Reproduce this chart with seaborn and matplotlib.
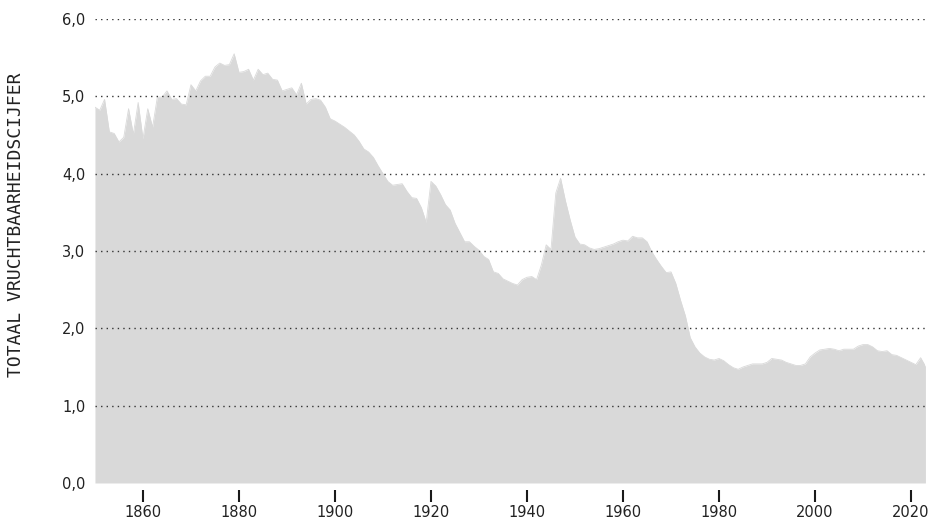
import numpy as np
import pandas as pd
import seaborn as sns
import matplotlib.pyplot as plt

# total fertility rate (1850-2023)
years = np.arange(1850, 2024)
tfr = [
    4.86, 4.82, 4.96, 4.54, 4.52, 4.41, 4.47, 4.84, 4.51, 4.92,  # 1850s
    4.45, 4.84, 4.60, 4.99, 4.99, 5.07, 4.96, 4.97, 4.90, 4.89,  # 1860s
    5.15, 5.07, 5.20, 5.26, 5.26, 5.38, 5.43, 5.40, 5.41, 5.55,  # 1870s
    5.31, 5.32, 5.35, 5.21, 5.35, 5.28, 5.30, 5.22, 5.21, 5.07,  # 1880s
    5.09, 5.11, 5.02, 5.17, 4.90, 4.96, 4.97, 4.95, 4.86, 4.71,  # 1890s
    4.68, 4.64, 4.60, 4.55, 4.50, 4.42, 4.32, 4.28, 4.21, 4.10,  # 1900s
    4.00, 3.90, 3.85, 3.86, 3.87, 3.77, 3.69, 3.68, 3.56, 3.37,  # 1910s
    3.90, 3.84, 3.73, 3.60, 3.53, 3.36, 3.24, 3.12, 3.12, 3.06,  # 1920s
    3.01, 2.93, 2.89, 2.73, 2.71, 2.64, 2.61, 2.58, 2.56, 2.63,  # 1930s
    2.66, 2.67, 2.63, 2.82, 3.08, 3.02, 3.75, 3.94, 3.65, 3.40,  # 1940s
    3.18, 3.09, 3.08, 3.04, 3.02, 3.03, 3.05, 3.07, 3.09, 3.12,  # 1950s
    3.14, 3.13, 3.19, 3.17, 3.17, 3.12, 2.99, 2.89, 2.80, 2.72,  # 1960s
    2.73, 2.58, 2.36, 2.16, 1.88, 1.76, 1.68, 1.63, 1.60, 1.59,  # 1970s
    1.61, 1.58, 1.53, 1.49, 1.47, 1.50, 1.52, 1.54, 1.54, 1.54,  # 1980s
    1.56, 1.61, 1.60, 1.59, 1.56, 1.54, 1.52, 1.52, 1.54, 1.63,  # 1990s
    1.68, 1.72, 1.73, 1.74, 1.73, 1.71, 1.73, 1.73, 1.73, 1.77,  # 2000s
    1.79, 1.79, 1.76, 1.71, 1.70, 1.71, 1.66, 1.65, 1.62, 1.59,  # 2010s
    1.56, 1.53, 1.62, 1.51,                                      # 2020s
]
assert len(tfr) == len(years)

y_ticks = [0, 1, 2, 3, 4, 5, 6]
y_labels = ["0,0", "1,0", "2,0", "3,0", "4,0", "5,0", "6,0"]
x_ticks = [1860, 1880, 1900, 1920, 1940, 1960, 1980, 2000, 2020]

df = pd.DataFrame({"jaar": years, "tfr": tfr})

sns.set_style("white")
plt.rcParams["font.family"] = ["DejaVu Sans"]

fig = plt.figure(figsize=(9.42, 5.19), dpi=100)
ax = fig.add_axes([0.1008, 0.0694, 0.8816, 0.894])

fill = "#d9d9d9"
ax.fill_between(df["jaar"], df["tfr"], color=fill, linewidth=0, zorder=1)
sns.lineplot(data=df, x="jaar", y="tfr", color=fill, linewidth=0.6, ax=ax, zorder=1)

# dotted gridlines on top of the area
for v in y_ticks[1:]:
    ax.axhline(v, color="#333333", linestyle=(0, (1, 3)), linewidth=1.0, zorder=3)

ax.set_xlim(1850, 2023)
ax.set_ylim(0, 6)
ax.set_xticks(x_ticks)
ax.set_xticklabels([str(x) for x in x_ticks])
ax.set_yticks(y_ticks)
ax.set_yticklabels(y_labels)

for s in ["top", "right", "left"]:
    ax.spines[s].set_visible(False)
ax.spines["bottom"].set_position(("outward", 5))
ax.spines["bottom"].set_visible(False)

ax.tick_params(axis="x", length=8.5, width=1.5, color="#1a1a1a", pad=2,
               labelsize=10.5, labelcolor="#222222", direction="out", bottom=True)
ax.tick_params(axis="y", length=0, pad=7, labelsize=10.5, labelcolor="#222222")

ax.set_xlabel("")
ax.set_ylabel("")
fig.text(0.017, 0.566, "TOTAAL VRUCHTBAARHEIDSCIJFER", rotation=90,
         ha="center", va="center", fontsize=13, color="#222222",
         family="DejaVu Sans Mono")

fig.savefig("out.png", dpi=100)
